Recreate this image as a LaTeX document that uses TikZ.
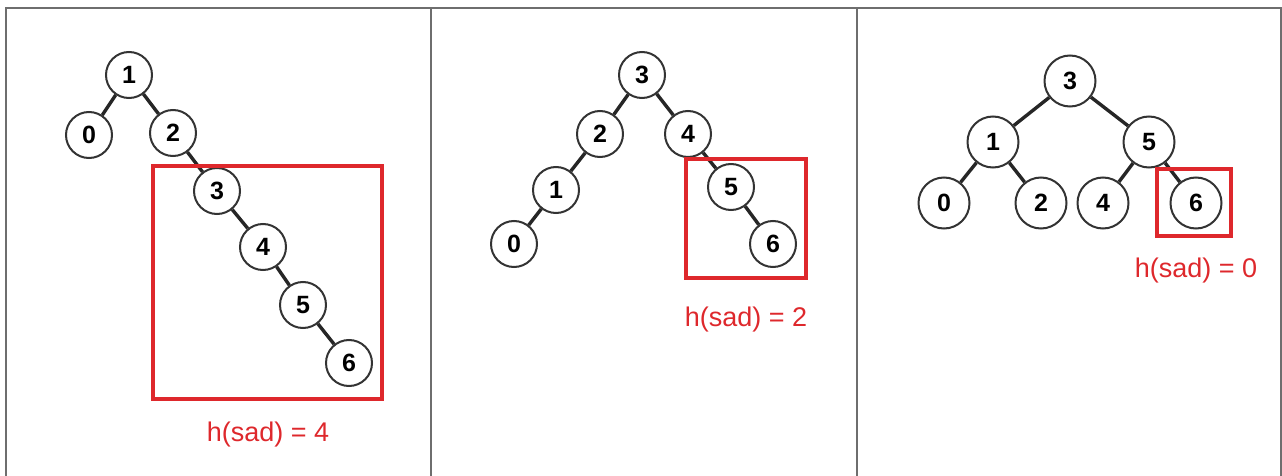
\documentclass[tikz,border=0pt]{standalone}
\usepackage{fontspec}
\setmainfont{Liberation Sans}

\definecolor{boxred}{RGB}{222,40,44}
\definecolor{framegray}{RGB}{110,110,110}

\begin{document}
\begin{tikzpicture}[x=1pt,y=-1pt]
      \tikzstyle{vertex}=[circle,draw=black!80,line width=2pt,fill=white,inner sep=0pt,minimum width=46pt,font=\fontsize{25}{27}\selectfont\bfseries]
      \tikzstyle{bigvertex}=[vertex,minimum width=51pt]
      \tikzstyle{edge}=[line width=3.4pt,black!85]
      \tikzstyle{subtree}=[draw=boxred,line width=3.4pt]
      \tikzstyle{height}=[text=boxred,font=\fontsize{27}{30}\selectfont]
      \useasboundingbox (0,0) rectangle (1282,476);
      % outer frame and the two dividers
      \draw[framegray,line width=2.4pt] (6,480) -- (6,8) -- (1281,8) -- (1281,480);
      \draw[framegray,line width=2.4pt] (431,8) -- (431,480);
      \draw[framegray,line width=2.4pt] (857,8) -- (857,480);
      % first tree: a chain to the right
      \foreach \i/\x/\y in {1/129/75,0/89/135,2/173/133,3/217/191,4/263/247,5/303/305,6/349/363}
        {\node[vertex] at (\x,\y) (a\i) {\i};}
      \foreach \i/\j in {1/0,1/2,2/3,3/4,4/5,5/6}
        {\draw[edge] (a\i) -- (a\j);}
      \draw[subtree] (153,166) rectangle (382,399);
      \node[height] at (268,435) (ha) {h(sad) = 4};
      % second tree
      \foreach \i/\x/\y in {3/642/75,2/600/134,4/688/134,1/556/190,0/514/244,5/731/187,6/773/244}
        {\node[vertex] at (\x,\y) (b\i) {\i};}
      \foreach \i/\j in {3/2,3/4,2/1,1/0,4/5,5/6}
        {\draw[edge] (b\i) -- (b\j);}
      \draw[subtree] (686,159) rectangle (806,278);
      \node[height] at (746,320) (hb) {h(sad) = 2};
      % third tree: balanced
      \foreach \i/\x/\y in {3/1070/81,1/993/142,5/1149/142,0/944/203,2/1041/203,4/1103/203,6/1196/203}
        {\node[bigvertex] at (\x,\y) (c\i) {\i};}
      \foreach \i/\j in {3/1,3/5,1/0,1/2,5/4,5/6}
        {\draw[edge] (c\i) -- (c\j);}
      \draw[subtree] (1157,169) rectangle (1231,236);
      \node[height] at (1196,271) (hc) {h(sad) = 0};
\end{tikzpicture}
\end{document}
